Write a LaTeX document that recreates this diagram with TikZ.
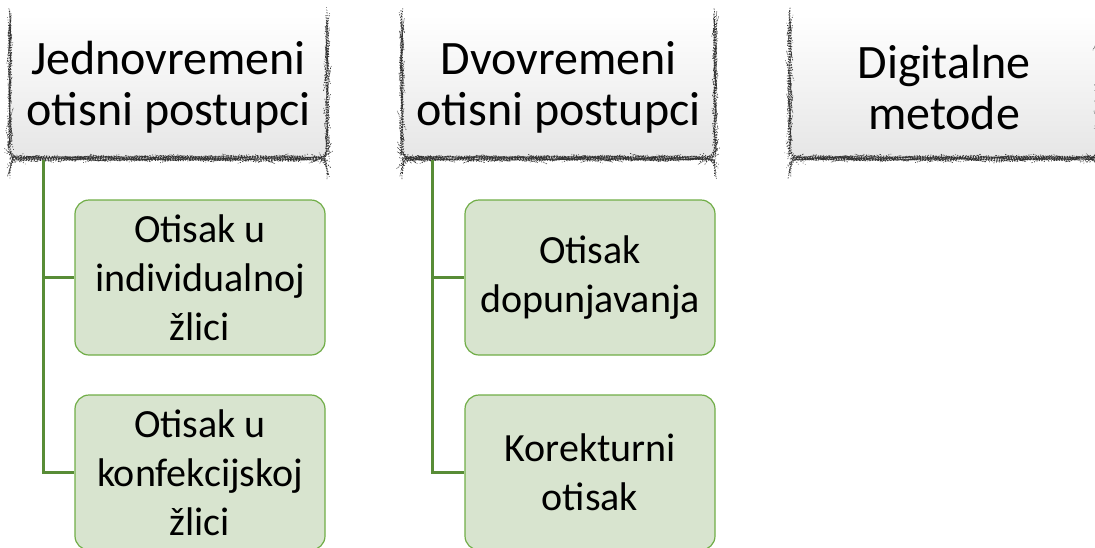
\documentclass[tikz,border=0pt]{standalone}
\usepackage{fontspec}
\setmainfont{Carlito}
\usetikzlibrary{decorations.pathmorphing}
\definecolor{gfill}{RGB}{216,228,207}
\definecolor{gborder}{RGB}{112,173,71}
\definecolor{conn}{RGB}{88,140,54}
\begin{document}
\begin{tikzpicture}[x=1pt,y=-1pt,
  head/.style={rectangle, rounded corners=12pt, top color=white, bottom color=black!10,
    minimum width=317pt, minimum height=145pt, inner sep=0pt, align=center,
    font=\fontsize{48}{51}\selectfont},
  leaf/.style={rectangle, rounded corners=14pt, fill=gfill, draw=gborder, line width=1.2pt,
    minimum width=250pt, minimum height=155pt, inner sep=0pt, align=center,
    font=\fontsize{40}{49}\selectfont},
  rough/.style={draw=black!80, line width=0.65pt, dotted, decorate,
    decoration={random steps, segment length=2.5pt, amplitude=0.5pt}},
  link/.style={draw=conn, line width=2.8pt}]
\useasboundingbox (0,0) rectangle (1095,547);
\clip (0,0) rectangle (1095,547);
% headers
\node[head] (h1) at (168.5,87.5) {Jednovremeni\\otisni postupci};
\node[head, minimum width=313pt] (h2) at (558.5,87.5) {Dvovremeni\\otisni postupci};
\node[head, minimum width=308pt] (h3) at (944,87.5) {Digitalne\\metode};
\foreach \h in {h1,h2,h3}{
  \draw[rough] ([yshift=-2pt]\h.north west) [rounded corners=12pt] -- ([yshift=1pt]\h.south west) -- ([yshift=1pt]\h.south east) -- ([yshift=-2pt]\h.north east);
  \draw[rough] ([yshift=-12pt]\h.south west) [rounded corners=10pt] -- ([xshift=2pt,yshift=3pt]\h.south west) -- ([xshift=-2pt,yshift=3pt]\h.south east) -- ([yshift=-12pt]\h.south east);
}
% leaves
\node[leaf] (a1) at (200,277.5) {Otisak u\\individualnoj\\žlici};
\node[leaf] (a2) at (200,472.5) {Otisak u\\konfekcijskoj\\žlici};
\node[leaf] (b1) at (590,277.5) {Otisak\\dopunjavanja};
\node[leaf] (b2) at (590,472.5) {Korekturni\\otisak};
% connectors
\coordinate (c1) at ([xshift=34pt]h1.south west);
\coordinate (c2) at ([xshift=31pt]h2.south west);
\draw[link] (c1) |- (a1.west);
\draw[link] (c1) |- (a2.west);
\draw[link] (c2) |- (b1.west);
\draw[link] (c2) |- (b2.west);
\end{tikzpicture}
\end{document}
